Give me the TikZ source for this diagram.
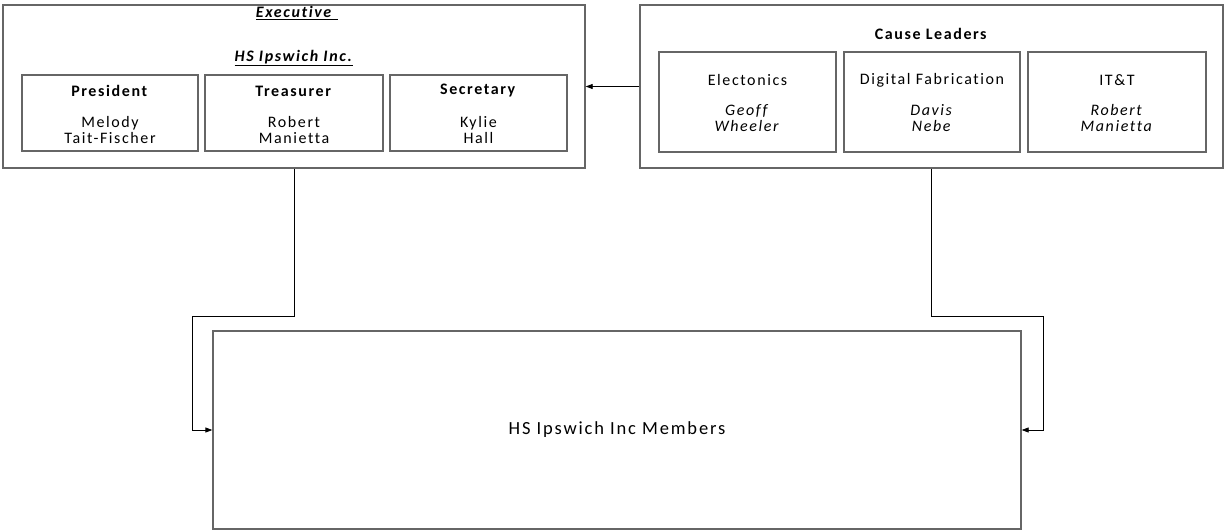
\documentclass[tikz,border=0pt]{standalone}
\usepackage{fontspec}
\setmainfont{Carlito}[LetterSpace=10,Ligatures=CommonOff]
\usetikzlibrary{arrows.meta}
\begin{document}
\begin{tikzpicture}[x=1pt,y=-1pt,
  box/.style={draw=black!60, line width=1.3pt, inner sep=0pt, fill=white},
  txt/.style={inner sep=0pt, font=\fontsize{16}{16}\selectfont, align=center},
  conn/.style={draw=black, line width=0.8pt},
  arr/.style={conn, -{Triangle[length=7pt,width=5pt]}}]
\useasboundingbox (0,0) rectangle (1225,531);
% outer boxes
\node[box, minimum width=582pt, minimum height=163pt] (exec) at (294,86.5) {};
\node[box, minimum width=583pt, minimum height=163pt] (cause) at (931.5,86.5) {};
\node[box, minimum width=808pt, minimum height=198pt] (members) at (617,430) {};
% executive inner boxes
\node[box, minimum width=176pt, minimum height=76pt] (pres) at (110,113) {};
\node[box, minimum width=178pt, minimum height=76pt] (treas) at (294,113) {};
\node[box, minimum width=177pt, minimum height=76pt] (sec) at (478.5,113) {};
% cause inner boxes
\node[box, minimum width=177pt, minimum height=100pt] (elec) at (747.5,102) {};
\node[box, minimum width=176pt, minimum height=100pt] (dfab) at (932,102) {};
\node[box, minimum width=178pt, minimum height=100pt] (itt) at (1117,102) {};
% texts
\node[txt] (t-exec) at (297,13) {\underline{\textbf{\textit{Executive\ }}}};
\node[txt] (t-hs) at (294,58) {\underline{\textbf{\textit{HS Ipswich Inc.}}}};
\node[txt] (t-pres) at (110,91) {\textbf{President}};
\node[txt] (t-presn) at (110,130) {Melody\\Tait-Fischer};
\node[txt] (t-treas) at (294,91) {\textbf{Treasurer}};
\node[txt] (t-treasn) at (294,130) {Robert\\Manietta};
\node[txt] (t-sec) at (478.5,91) {\textbf{Secretary}};
\node[txt] (t-secn) at (478.5,130) {Kylie\\Hall};
\node[txt] (t-cause) at (931.5,34) {\textbf{Cause Leaders}};
\node[txt] (t-elec) at (747.5,80) {Electonics};
\node[txt] (t-elecn) at (747.5,118) {\textit{Geoff}\\\textit{Wheeler}};
\node[txt] (t-dfab) at (932,80) {Digital Fabrication};
\node[txt] (t-dfabn) at (932,118) {\textit{Davis}\\\textit{Nebe}};
\node[txt] (t-itt) at (1117,80) {IT\&T};
\node[txt] (t-ittn) at (1117,118) {\textit{Robert}\\\textit{Manietta}};
\node[txt, font=\fontsize{18.5}{19}\selectfont] (t-mem) at (617,430) {HS Ipswich Inc Members};
% connectors
\coordinate (jl) at (192,316);
\coordinate (jr) at (1043,316);
\draw[arr] (cause.west) -- (exec.east);
\draw[conn] (exec.south) |- (jl);
\draw[arr] (jl) |- (members.west);
\draw[conn] (cause.south) |- (jr);
\draw[arr] (jr) |- (members.east);
\end{tikzpicture}
\end{document}
